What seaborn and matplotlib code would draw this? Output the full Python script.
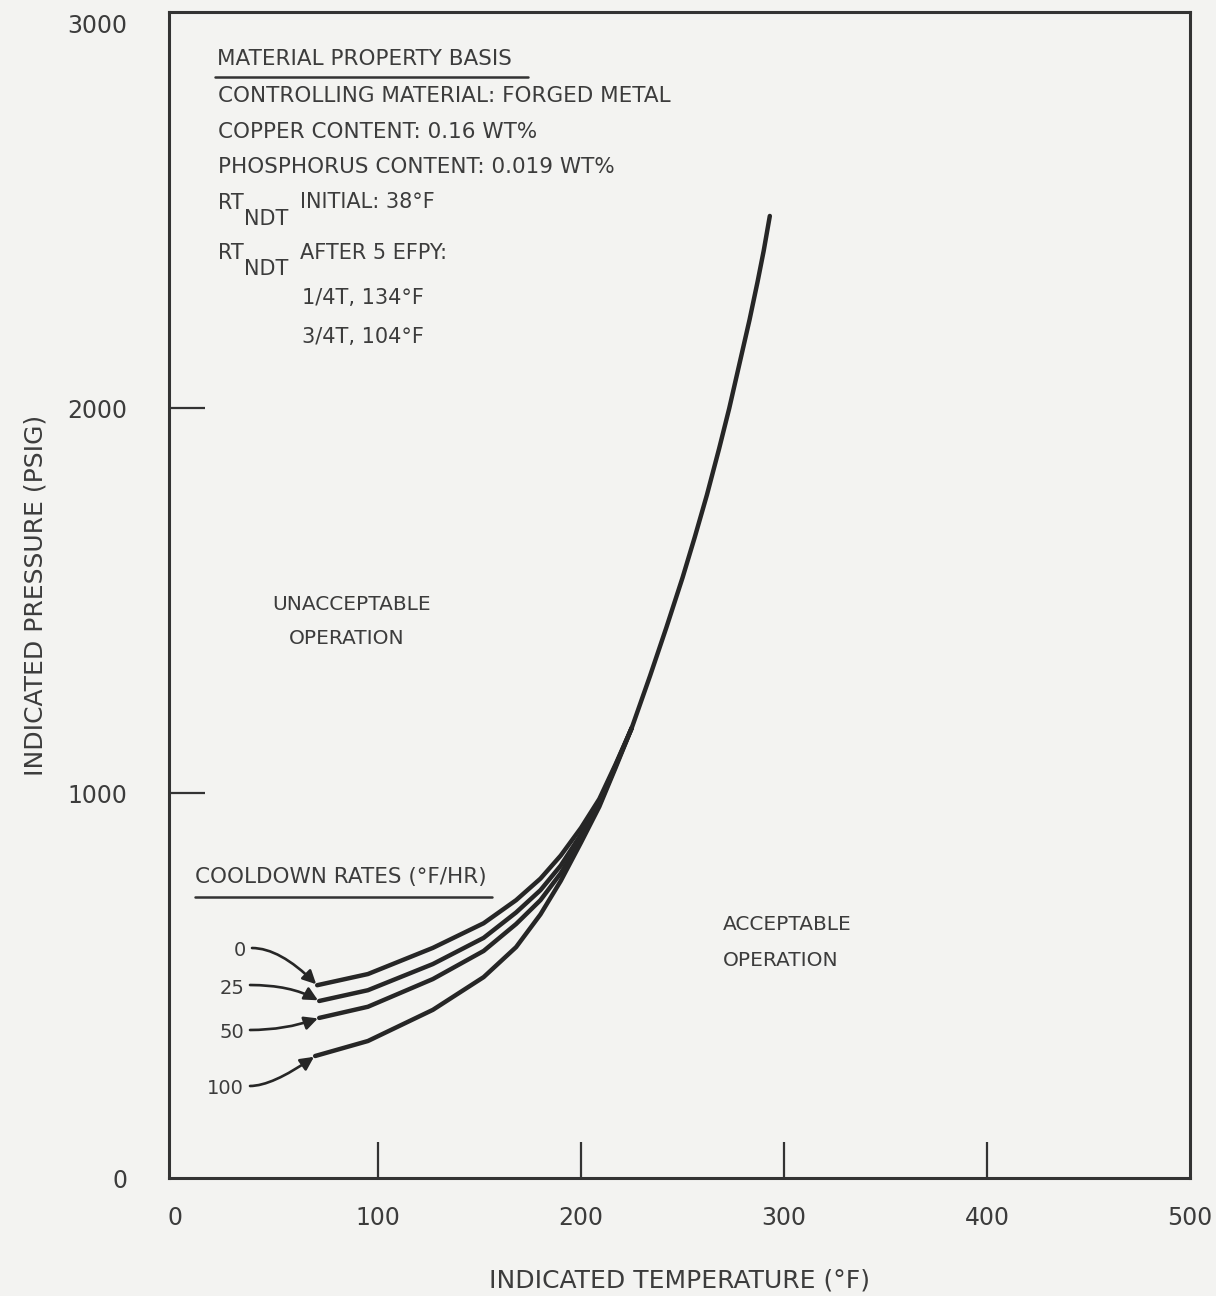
import numpy as np
import pandas as pd
import matplotlib
matplotlib.use("Agg")
import matplotlib.pyplot as plt
from matplotlib.lines import Line2D
import seaborn as sns

# ---------------- data ----------------
temp_0 = [70, 95, 127, 152, 168, 180, 190, 200, 209, 217, 225, 234, 242, 250, 256,
          262, 268, 273, 278, 283, 287, 290, 293]
press_0 = [501, 530, 598, 662, 722, 778, 838, 910, 985, 1075, 1170, 1305, 1430, 1560, 1665,
           1775, 1895, 2000, 2115, 2230, 2330, 2410, 2500]
temp_25 = [71, 95, 127, 152, 168, 180, 190, 200, 209, 217, 225]
press_25 = [460, 488, 556, 624, 690, 748, 812, 893, 975, 1072, 1170]
temp_50 = [71, 95, 127, 152, 168, 180, 190, 200, 209, 217, 225]
press_50 = [416, 445, 517, 590, 660, 722, 792, 880, 970, 1070, 1170]
temp_100 = [69, 95, 127, 152, 168, 180, 190, 200, 209, 217, 225]
press_100 = [317, 356, 437, 522, 600, 685, 772, 872, 965, 1066, 1170]
rates = ["0", "25", "50", "100"]

x_ticks = [0, 100, 200, 300, 400, 500]
x_ticklabels = ["0", "100", "200", "300", "400", "500"]
y_ticks = [0, 1000, 2000, 3000]
y_ticklabels = ["0", "1000", "2000", "3000"]

info_lines = ["CONTROLLING MATERIAL: FORGED METAL",
              "COPPER CONTENT: 0.16 WT%",
              "PHOSPHORUS CONTENT: 0.019 WT%"]

# ---------------- build table ----------------
curves = {"0": (temp_0, press_0), "25": (temp_25, press_25),
          "50": (temp_50, press_50), "100": (temp_100, press_100)}
rows = []
for r in rates:
    t, p = curves[r]
    for ti, pi in zip(t, p):
        rows.append({"temp": ti, "press": pi, "rate": r})
df = pd.DataFrame(rows)

# ---------------- style ----------------
sns.set_theme(style="white")
plt.rcParams["font.family"] = ["DejaVu Sans"]
BG = "#f3f3f1"
TXT = "#3c3c3c"
INK = "#262626"

W, H = 1216, 1296
fig = plt.figure(figsize=(W / 100, H / 100), dpi=100, facecolor=BG)
ax = fig.add_axes([169 / W, 1 - 1178 / H, (1190 - 169) / W, (1178 - 12) / H])
ax.set_facecolor(BG)

sns.lineplot(data=df, x="temp", y="press", hue="rate", hue_order=rates,
             palette=[INK] * 4, estimator=None, sort=False, legend=False,
             lw=3.2, ax=ax)
for ln in ax.lines:
    ln.set_solid_joinstyle("round")
    ln.set_solid_capstyle("round")

ax.set_xlim(-3, 500)
ax.set_ylim(0, 3030)

for s in ax.spines.values():
    s.set_visible(True)
    s.set_color("#333333")
    s.set_linewidth(2.2)

ax.set_xticks(x_ticks)
ax.set_xticklabels(x_ticklabels)
ax.set_yticks(y_ticks)
ax.set_yticklabels(y_ticklabels)
ax.tick_params(axis="both", which="major", bottom=True, left=True, top=False, right=False,
               direction="in", length=26, width=1.6, color="#333333",
               labelsize=17, labelcolor=TXT)
ax.tick_params(axis="x", pad=20)
ax.tick_params(axis="y", pad=30)
for i in (0, -1):
    ax.xaxis.get_major_ticks()[i].tick1line.set_visible(False)
    ax.yaxis.get_major_ticks()[i].tick1line.set_visible(False)

ax.set_xlabel("INDICATED TEMPERATURE (°F)", fontsize=18, color=TXT, labelpad=28)
ax.set_ylabel("INDICATED PRESSURE (PSIG)", fontsize=18, color=TXT, labelpad=14)


def F(px, py):
    return (px / W, 1 - py / H)


def ftext(px, py, s, size=15, ha="left"):
    fig.text(*F(px, py), s, fontsize=size, color=TXT, ha=ha, va="center")


def uline(x0, x1, py):
    a, b = F(x0, py)
    c, _ = F(x1, py)
    fig.add_artist(Line2D([a, c], [b, b], transform=fig.transFigure,
                          color="#333333", lw=1.8))


# material block
ftext(217, 59, "MATERIAL PROPERTY BASIS", size=15.5)
uline(215, 528, 77)
for i, s in enumerate(info_lines):
    ftext(218, 96 + i * 35.5, s, size=15.5)
ftext(218, 203, "RT")
ftext(244, 219, "NDT")
ftext(300, 202, "INITIAL: 38°F")
ftext(218, 253, "RT")
ftext(244, 269, "NDT")
ftext(300, 253, "AFTER 5 EFPY:")
ftext(302, 298, "1/4T, 134°F")
ftext(302, 337, "3/4T, 104°F")

# region labels
ftext(352, 604, "UNACCEPTABLE", size=14.5, ha="center")
ftext(347, 639, "OPERATION", size=14.5, ha="center")
ftext(787, 925, "ACCEPTABLE", size=14.5, ha="center")
ftext(781, 961, "OPERATION", size=14.5, ha="center")

# cooldown rates legend
ftext(195, 877, "COOLDOWN RATES (°F/HR)", size=15.5)
uline(195, 492, 897)

label_pos = {"0": (246, 951), "25": (244, 988), "50": (244, 1033), "100": (244, 1089)}
angB = {"0": -45, "25": -30, "50": 20, "100": 35}
for r in rates:
    lx, ly = label_pos[r]
    ftext(lx, ly, r, size=14, ha="right")
    t, p = curves[r]
    ax.annotate("", xy=(t[0], p[0]), xycoords="data",
                xytext=F(lx + 6, ly - 3), textcoords="figure fraction",
                arrowprops=dict(arrowstyle="-|>", color=INK, lw=1.9,
                                mutation_scale=20, shrinkA=0, shrinkB=1,
                                connectionstyle=f"angle3,angleA=0,angleB={angB[r]}"))

fig.savefig("out.png", dpi=100, facecolor=BG)
